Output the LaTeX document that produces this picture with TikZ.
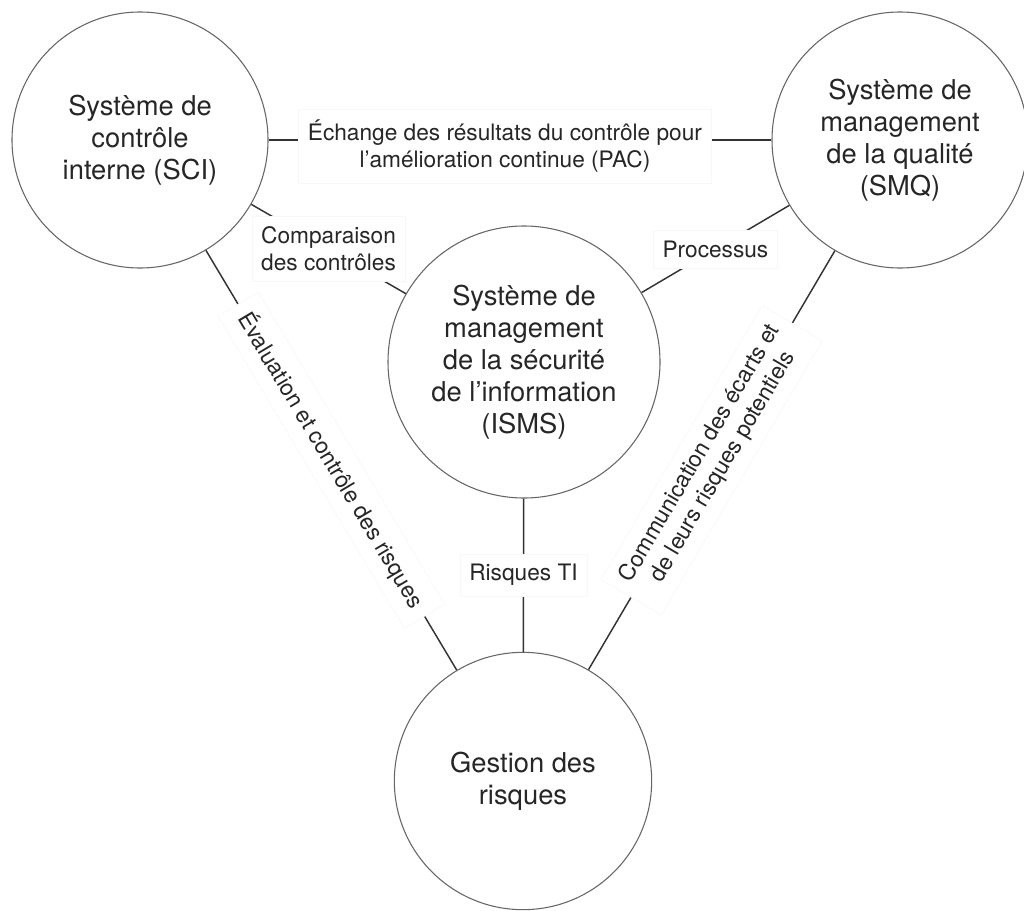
\documentclass[tikz,border=0pt]{standalone}
\usepackage{fontspec}
\setmainfont{TeX Gyre Heros}
\begin{document}
\begin{tikzpicture}[x=0.75pt,y=-0.75pt,
  sys/.style={circle, draw=black!60, line width=0.8pt, fill=white, align=center,
    font=\fontsize{20.5}{24}\selectfont, text=black!85, inner sep=0pt},
  link/.style={draw=black!80, line width=1.1pt},
  lbl/.style={fill=white, draw=black!3, line width=0.4pt, align=center,
    font=\fontsize{17}{20}\selectfont, text=black!85, inner xsep=7pt, inner ysep=8pt},
]
\useasboundingbox (0,0) rectangle (1024,910);

% the four management systems
\node[sys, minimum size=192pt] (sci) at (140,140) {Système de\\contrôle\\interne (SCI)};
\node[sys, minimum size=192pt] (smq) at (900,140) {Système de\\management\\de la qualité\\(SMQ)};
\node[sys, minimum size=204pt] (isms) at (524,362) {Système de\\management\\de la sécurité\\de l’information\\(ISMS)};
\node[sys, minimum size=193pt] (gdr) at (523,781) {Gestion des\\risques};

% relations between the systems
\draw[link] (sci) -- node[lbl, pos=0.47, yshift=-4.5pt]
  {Échange des résultats du contrôle pour\\l’amélioration continue (PAC)} (smq);
\draw[link] (sci) -- node[lbl] {Comparaison\\des contrôles} (isms);
\draw[link] (isms) -- node[lbl] {Processus} (smq);
\draw[link] (isms) -- node[lbl] {Risques TI} (gdr);
\draw[link] (sci) -- node[lbl, sloped, inner xsep=9pt] {Évaluation et contrôle des risques} (gdr);
\draw[link] (smq) -- node[lbl, sloped, inner xsep=9pt]
  {Communication des écarts et\\de leurs risques potentiels} (gdr);
\end{tikzpicture}
\end{document}
